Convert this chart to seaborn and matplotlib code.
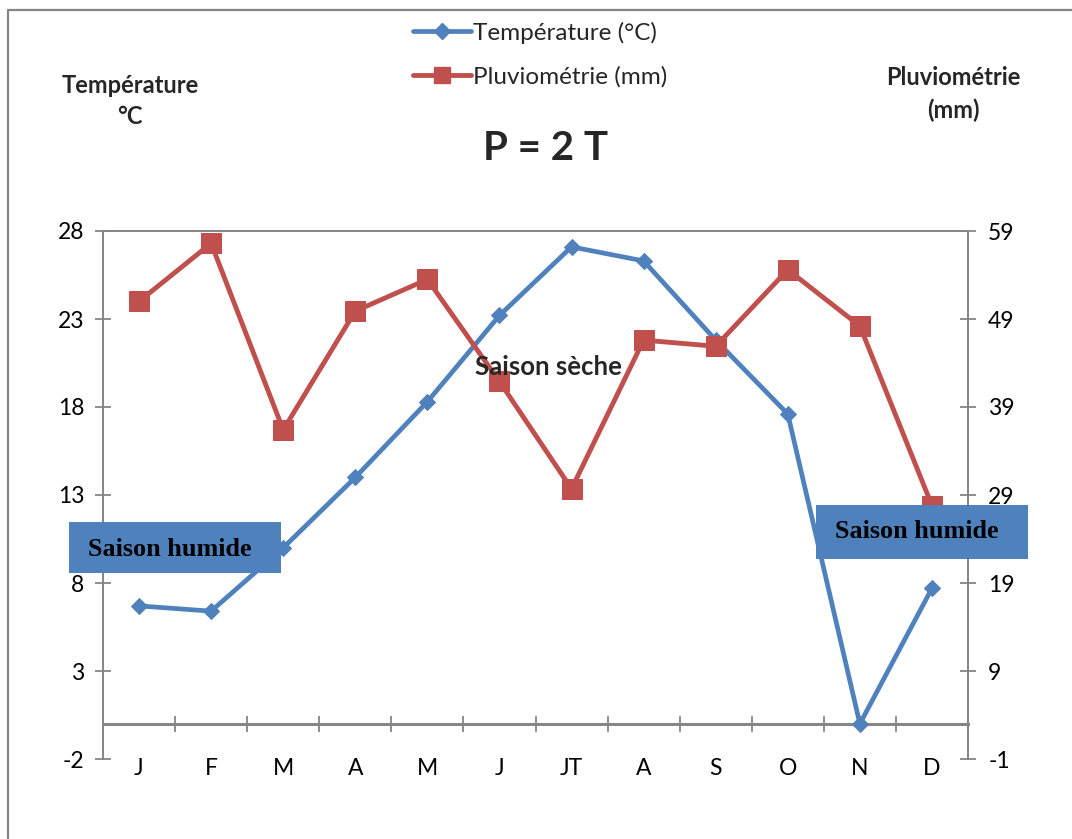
import matplotlib
matplotlib.use("Agg")
import matplotlib.pyplot as plt
from matplotlib.patches import Rectangle
from matplotlib.lines import Line2D
import numpy as np
import pandas as pd
import seaborn as sns

# Monthly climate data
months = ["J", "F", "M", "A", "M", "J", "JT", "A", "S", "O", "N", "D"]
temperature = [6.7, 6.4, 10.0, 14.0, 18.3, 23.2, 27.1, 26.3, 21.8, 17.6, 0.0, 7.7]
rainfall = [51.0, 57.6, 36.4, 49.9, 53.5, 41.9, 29.7, 46.6, 45.9, 54.6, 48.2, 27.8]

temp_ticks = [-2, 3, 8, 13, 18, 23, 28]
rain_ticks = [-1, 9, 19, 29, 39, 49, 59]

BLUE = "#4F81BD"
RED = "#C0504D"
GRAY = "#868686"

sns.set_theme(style="white")
plt.rcParams["font.family"] = ["Lato", "DejaVu Sans"]
plt.rcParams["axes.unicode_minus"] = False

df = pd.DataFrame({"idx": np.arange(len(months)), "temp": temperature, "rain": rainfall})

W, H = 1072, 839
fig = plt.figure(figsize=(W / 100, H / 100), dpi=100)
ax = fig.add_axes([103 / W, 1 - 759 / H, 865 / W, 528 / H])
ax2 = ax.twinx()

# Temperature (left axis)
sns.lineplot(data=df, x="idx", y="temp", ax=ax, color=BLUE, lw=3.4, marker="D",
             markersize=8.4, markeredgecolor=BLUE, sort=False, zorder=5)
# Rainfall (right axis)
sns.lineplot(data=df, x="idx", y="rain", ax=ax2, color=RED, lw=3.5, marker="s",
             markersize=14, markeredgecolor=RED, sort=False, zorder=5)

ax.set_xlim(-0.5, len(months) - 0.5)
ax.set_ylim(temp_ticks[0], temp_ticks[-1])
ax2.set_ylim(rain_ticks[0], rain_ticks[-1])
ax.set_yticks(temp_ticks)
ax2.set_yticks(rain_ticks)
ax.set_xticks(df["idx"])
ax.set_xticklabels(months)
ax.set_xlabel("")
ax.set_ylabel("")
ax2.set_ylabel("")

for a in (ax, ax2):
    a.grid(False)
    for side in ("left", "right", "top"):
        a.spines[side].set_color(GRAY)
        a.spines[side].set_linewidth(1.3)
    a.spines["bottom"].set_visible(False)
    a.patch.set_visible(False)

ax.tick_params(axis="y", direction="inout", length=11, width=1.3, color=GRAY,
               labelsize=16.5, pad=8, left=True, labelcolor="black")
ax2.tick_params(axis="y", direction="inout", length=11, width=1.3, color=GRAY,
                labelsize=16.5, pad=9, right=True, labelcolor="black")
ax.tick_params(axis="x", length=0, labelsize=16.5, pad=-1, labelcolor="black")
ax2.tick_params(axis="x", bottom=False, labelbottom=False)

# Horizontal axis line at zero with category separators
zero_frac = (0 - temp_ticks[0]) / (temp_ticks[-1] - temp_ticks[0])
sec = ax.secondary_xaxis(zero_frac)
sec.set_xticks(np.arange(-0.5, len(months) + 0.5, 1.0))
sec.tick_params(direction="inout", length=12, width=1.3, color=GRAY, labelbottom=False)
sec.spines["bottom"].set_color(GRAY)
sec.spines["bottom"].set_linewidth(2.2)

# Legend
handles = [
    Line2D([0], [0], color=BLUE, lw=3.4, marker="D", markersize=8.4, markeredgecolor=BLUE),
    Line2D([0], [0], color=RED, lw=3.5, marker="s", markersize=12, markeredgecolor=RED),
]
fig.legend(handles, ["Température (°C)", "Pluviométrie (mm)"], loc="upper left",
           bbox_to_anchor=(403 / W, 1 - 12 / H), frameon=False, fontsize=17.5,
           handlelength=2.4, handletextpad=0.1, labelspacing=0.9, borderaxespad=0)

# Axis titles and heading
fig.text(130 / W, 1 - 101 / H, "Température\n°C", ha="center", va="center",
         fontsize=17, fontweight="bold", linespacing=1.45)
fig.text(953 / W, 1 - 94 / H, "Pluviométrie\n(mm)", ha="center", va="center",
         fontsize=17, fontweight="bold", linespacing=1.45)
fig.text(546 / W, 1 - 148 / H, "P = 2 T", ha="center", va="center",
         fontsize=29, fontweight="bold")

# Season annotations
fig.text(548 / W, 1 - 367 / H, "Saison sèche", ha="center", va="center",
         fontsize=18.5, fontweight="bold", zorder=6)
season_boxes = [((69, 522, 281, 573), (170, 549)), ((816, 505, 1028, 559), (917, 532))]
for (x0, y0, x1, y1), (tx, ty) in season_boxes:
    fig.patches.append(Rectangle((x0 / W, 1 - y1 / H), (x1 - x0) / W, (y1 - y0) / H,
                                 transform=fig.transFigure, facecolor=BLUE,
                                 edgecolor="none", zorder=6))
    fig.text(tx / W, 1 - ty / H, "Saison humide",
             ha="center", va="center", fontsize=18.8, fontweight="bold",
             family=["Liberation Serif", "DejaVu Serif"], color="black", zorder=7)

# Chart frame
fig.lines.append(Line2D([8 / W, 8 / W, 1.0], [0.0, 1 - 10 / H, 1 - 10 / H],
                        transform=fig.transFigure, color=GRAY, lw=1.6))

fig.savefig("out.png", dpi=100)
